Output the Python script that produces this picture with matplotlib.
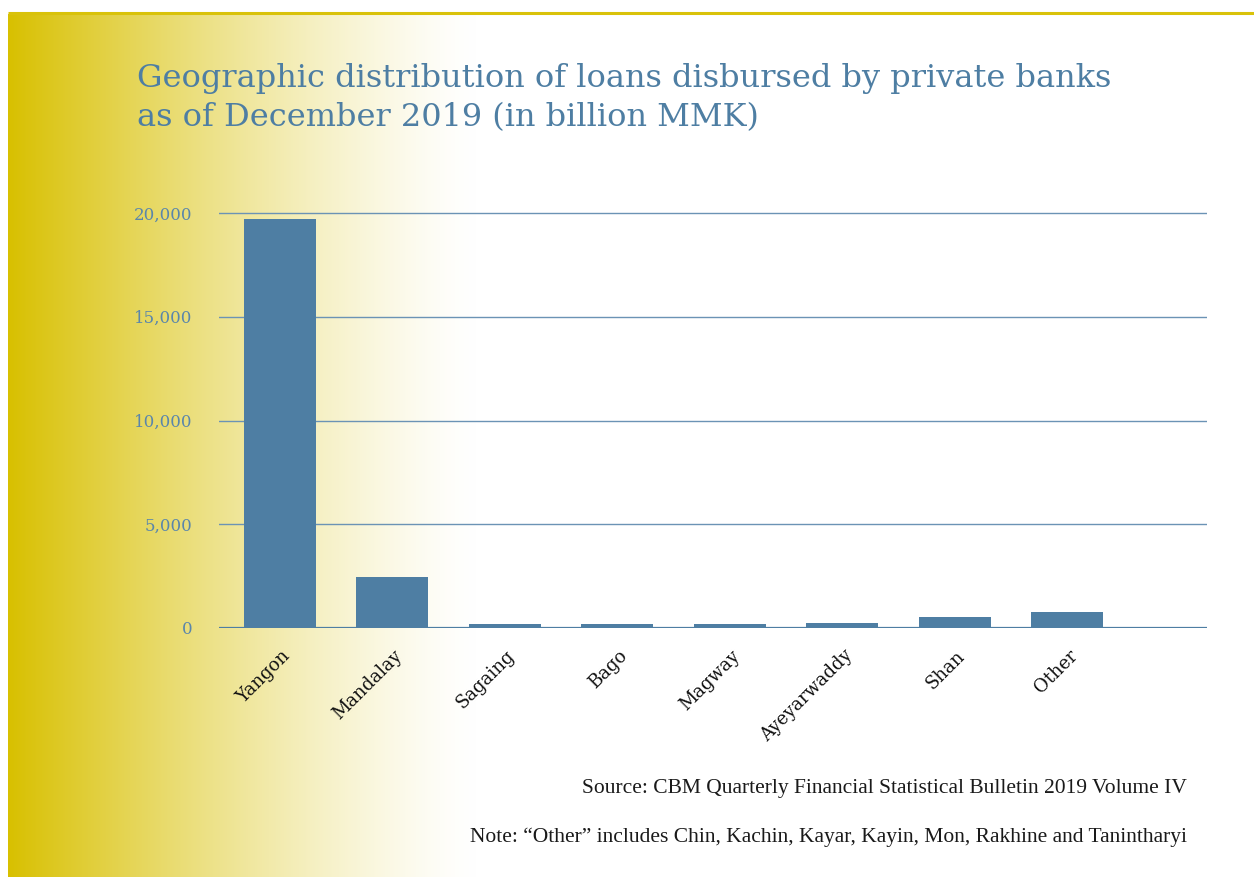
import numpy as np
import matplotlib
matplotlib.use("Agg")
import matplotlib.pyplot as plt
from matplotlib.transforms import ScaledTranslation

# Loans disbursed by private banks, billion MMK, December 2019
regions = ["Yangon", "Mandalay", "Sagaing", "Bago", "Magway",
           "Ayeyarwaddy", "Shan", "Other"]
loans = [19700, 2460, 190, 190, 190, 240, 530, 770]
y_ticks = [0, 5000, 10000, 15000, 20000]

BLUE = "#4e7ea3"
TICK_BLUE = "#5a86ab"
GOLD = np.array([216, 192, 0]) / 255.0

W, H, DPI = 1254, 877, 100
fig = plt.figure(figsize=(W / DPI, H / DPI), dpi=DPI)
fig.patch.set_facecolor("white")

# background: gold border on top and a fade from the left edge
bg = fig.add_axes([0, 0, 1, 1], zorder=-10)
bg.set_xlim(0, W)
bg.set_ylim(H, 0)
bg.axis("off")
xs = np.arange(8, 480)
t = np.clip(1 - (xs - 8) / 468.0, 0, 1) ** 1.35
grad = 1 - t[:, None] * (1 - GOLD[None, :])
bg.imshow(grad[None, :, :], extent=(8, 480, H, 14), aspect="auto",
          interpolation="bilinear")
bg.plot([8, W], [13, 13], color="#d9c20a", lw=2.2, solid_capstyle="butt")

# title (baseline of the second line)
fig.text(137 / W, 1 - 126 / H,
         "Geographic distribution of loans disbursed by private banks\n"
         "as of December 2019 (in billion MMK)",
         family="DejaVu Serif", fontsize=23, color=BLUE,
         ha="left", va="baseline", linespacing=1.32)

# bar chart area
x_left, x_right = 219, 1207
y_zero, y_top_grid = 628, 213
ymax = 20600
height_px = (y_zero - y_top_grid) * ymax / 20000
ax = fig.add_axes([x_left / W, (H - y_zero) / H, (x_right - x_left) / W, height_px / H])
ax.patch.set_alpha(0)

pos = np.arange(len(regions))
ax.bar(pos, loans, width=0.64, color=BLUE, zorder=3)
ax.set_xlim(-0.542, 8.24)
ax.set_ylim(0, ymax)

ax.set_yticks(y_ticks)
ax.set_yticklabels([f"{v:,}" for v in y_ticks], family="DejaVu Serif",
                   fontsize=12, color=TICK_BLUE)
ax.yaxis.grid(True, color="#6b93b5", lw=1.0, zorder=1)
ax.axhline(0, color=BLUE, lw=1.6, zorder=4)
ax.tick_params(axis="y", length=0, pad=19)

ax.set_xticks(pos)
ax.set_xticklabels(regions, rotation=45, ha="right", va="center",
                   rotation_mode="anchor", family="DejaVu Serif",
                   fontsize=13, color="#111111")
ax.tick_params(axis="x", length=0, pad=18)
offset = ScaledTranslation(7 / DPI, 0, fig.dpi_scale_trans)
for lab in ax.get_xticklabels():
    lab.set_transform(lab.get_transform() + offset)

for s in ax.spines.values():
    s.set_visible(False)

# footnotes
fig.text(1187 / W, 1 - 793 / H,
         "Source: CBM Quarterly Financial Statistical Bulletin 2019 Volume IV",
         family="Liberation Serif", fontsize=15.5, color="#1a1a1a",
         ha="right", va="baseline")
fig.text(1187 / W, 1 - 842 / H,
         "Note: \u201cOther\u201d includes Chin, Kachin, Kayar, Kayin, Mon, Rakhine and Tanintharyi",
         family="Liberation Serif", fontsize=15.5, color="#1a1a1a",
         ha="right", va="baseline")

fig.savefig("out.png", dpi=DPI)
